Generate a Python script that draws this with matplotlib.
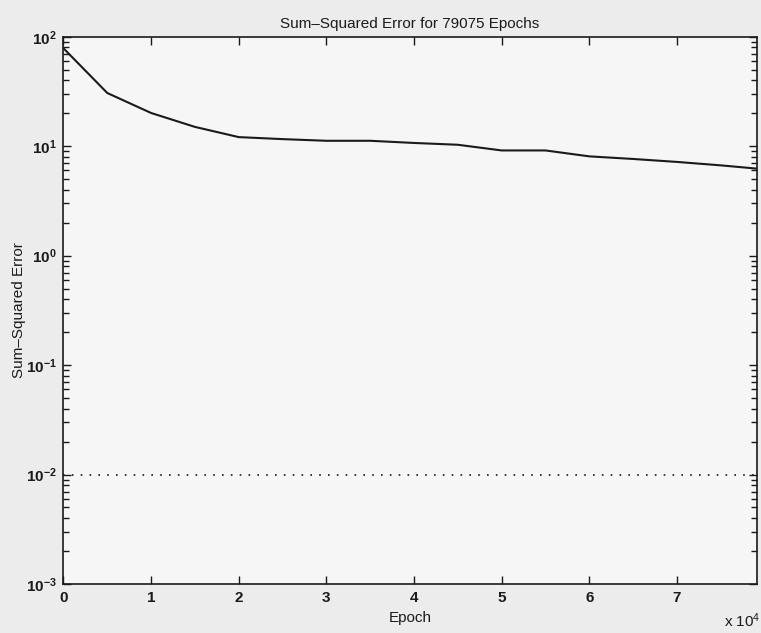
import math
import matplotlib
matplotlib.use("Agg")
import matplotlib.pyplot as plt
from matplotlib.ticker import FixedLocator, FuncFormatter, LogLocator, NullFormatter

plt.rcParams["font.family"] = ["Liberation Sans", "DejaVu Sans"]
plt.rcParams["mathtext.fontset"] = "custom"
plt.rcParams["mathtext.rm"] = "Liberation Sans"
plt.rcParams["mathtext.it"] = "Liberation Sans:italic"
plt.rcParams["mathtext.bf"] = "Liberation Sans:bold"

# Training record: sum-squared error logged every 5000 epochs
total_epochs = 79075
epochs = [0, 5000, 10000, 15000, 20000, 25000, 30000, 35000, 40000,
          45000, 50000, 55000, 60000, 65000, 70000, 75000, 79075]
sse = [78.4, 30.6, 20.1, 15.0, 12.1, 11.6, 11.2, 11.2, 10.7,
       10.3, 9.14, 9.14, 8.07, 7.64, 7.18, 6.68, 6.24]
error_goal = 0.01

x_ticks = [0, 10000, 20000, 30000, 40000, 50000, 60000, 70000]
x_tick_labels = ["0", "1", "2", "3", "4", "5", "6", "7"]
y_limits = (1e-3, 1e2)

ink = "#1a1a1a"

fig = plt.figure(figsize=(7.61, 6.33), dpi=100, facecolor="#ececec")
ax = fig.add_axes([0.0834, 0.0774, 0.9107, 0.8646], facecolor="#f6f6f6")

ax.semilogy(epochs, sse, color=ink, lw=1.5, solid_joinstyle="miter")
ax.plot([0, total_epochs], [error_goal, error_goal], color=ink,
        lw=1.2, linestyle=(0, (1, 4.3)))

ax.set_xlim(0, total_epochs)
ax.set_ylim(*y_limits)

ax.xaxis.set_major_locator(FixedLocator(x_ticks))
ax.xaxis.set_major_formatter(FuncFormatter(
    lambda v, pos: x_tick_labels[x_ticks.index(int(round(v)))]
    if int(round(v)) in x_ticks else ""))
ax.yaxis.set_major_locator(LogLocator(base=10, numticks=10))
ax.yaxis.set_minor_locator(LogLocator(base=10, subs=range(2, 10), numticks=10))
ax.yaxis.set_minor_formatter(NullFormatter())
ax.yaxis.set_major_formatter(FuncFormatter(
    lambda v, pos: r"$\mathbf{10^{%d}}$" % round(math.log10(v))))

ax.tick_params(which="both", direction="in", top=True, right=True,
               colors=ink, labelsize=11, width=1.0)
ax.tick_params(which="major", length=6, pad=5)
ax.tick_params(which="minor", length=4)
for lab in ax.get_xticklabels():
    lab.set_fontweight("bold")

for s in ax.spines.values():
    s.set_color(ink)
    s.set_linewidth(1.2)

ax.set_title("Sum\u2013Squared Error for 79075 Epochs", fontsize=11,
             pad=6, color=ink)
ax.set_xlabel("Epoch", fontsize=11, labelpad=4, color=ink)
ax.set_ylabel("Sum\u2013Squared Error", fontsize=11, labelpad=0, color=ink)
fig.text(0.9995, 0.004, r"x 10$^{4}$", ha="right", va="bottom",
         fontsize=11, color=ink)

fig.savefig("out.png", dpi=100, facecolor=fig.get_facecolor())
